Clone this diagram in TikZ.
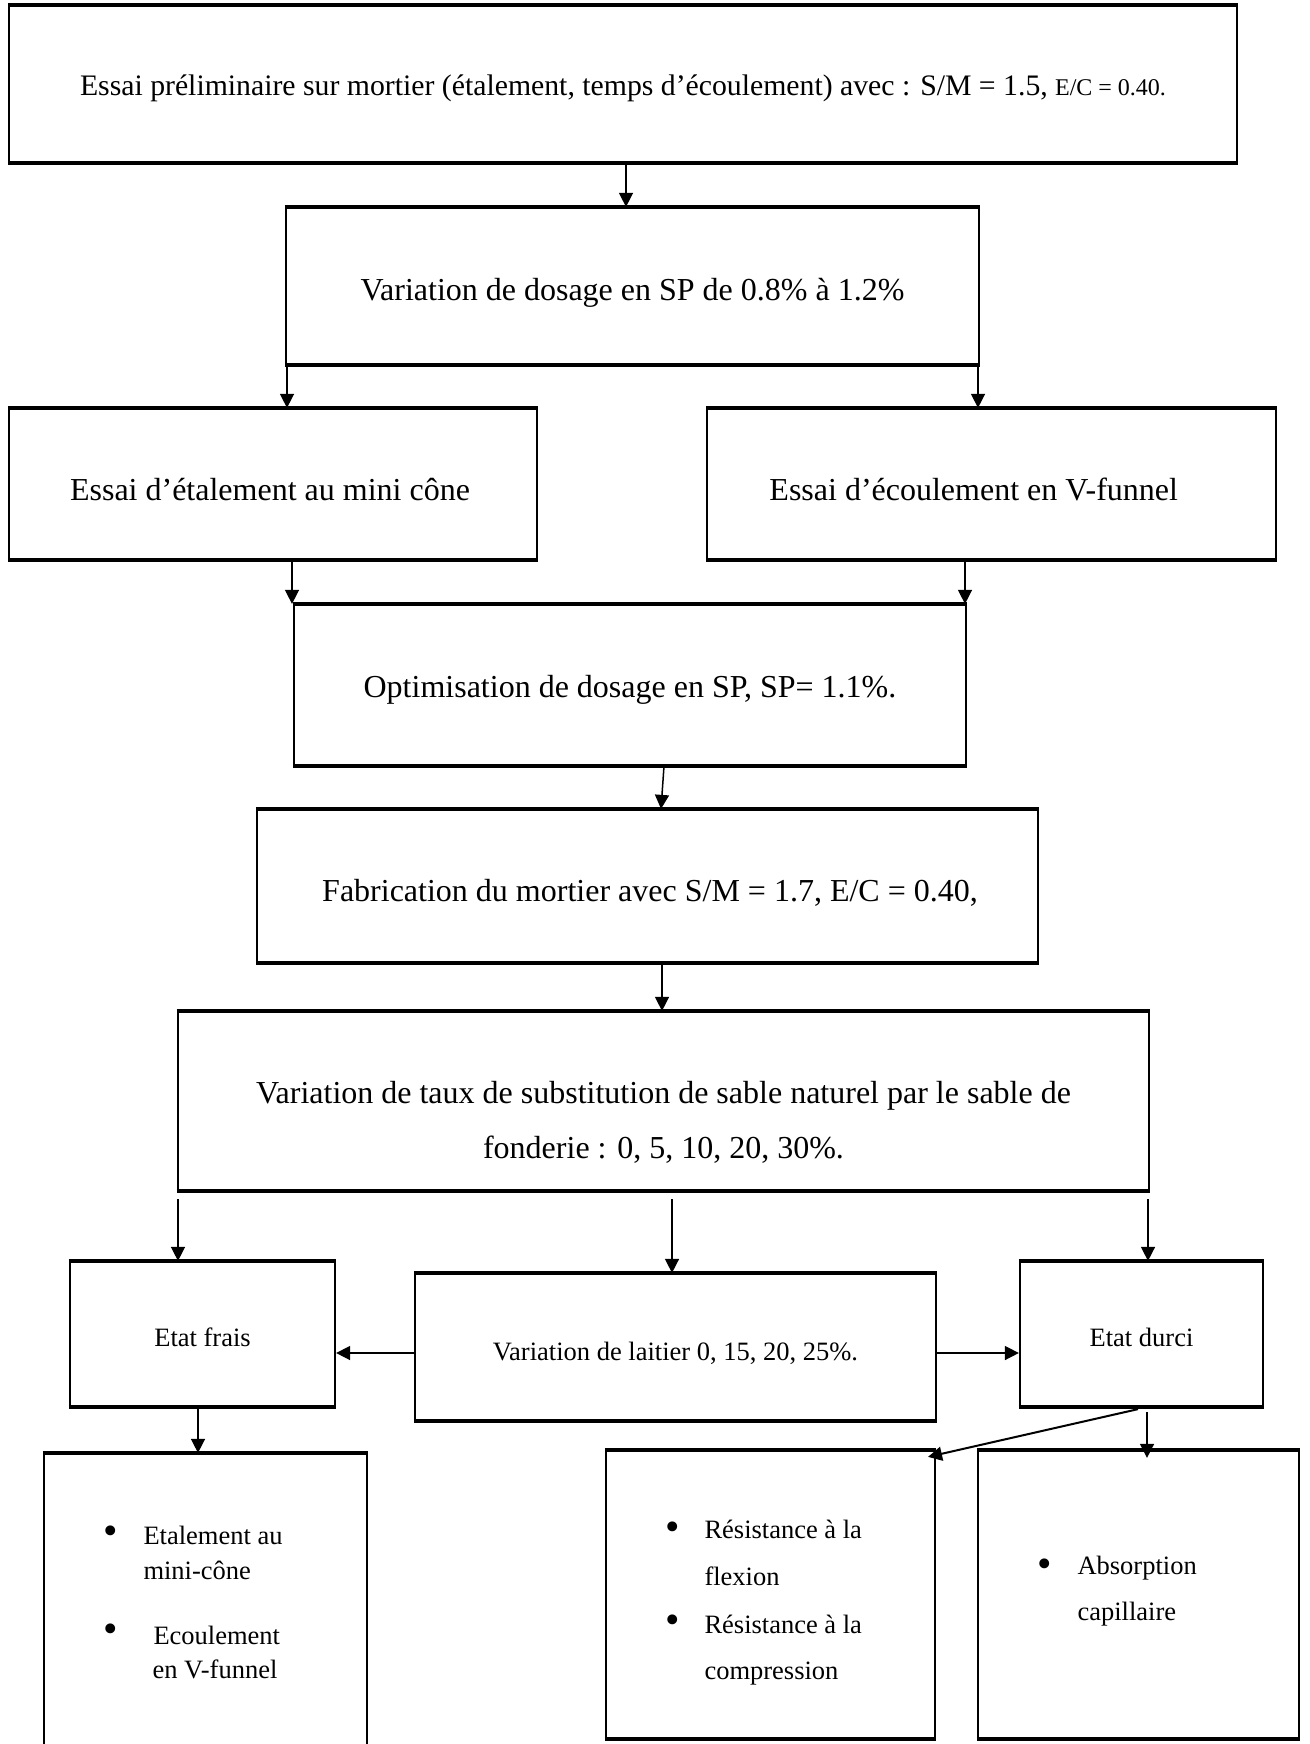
\documentclass[tikz,border=0pt]{standalone}
\usepackage{fontspec}
\setmainfont{Liberation Serif}
\usetikzlibrary{arrows.meta,calc}
\begin{document}
\begin{tikzpicture}[x=0.4pt,y=-0.4pt,
  box/.style={draw, line width=0.9pt, inner sep=0pt},
  btxt/.style={inner sep=0pt, align=center, font=\fontsize{12.8}{16}\selectfont},
  stxt/.style={inner sep=0pt, align=center, font=\fontsize{10.6}{13}\selectfont},
  txt/.style={inner sep=0pt, font=\fontsize{10.6}{13}\selectfont, anchor=west},
  bul/.style={inner sep=0pt, font=\fontsize{16.5}{18}\selectfont, anchor=center},
  arr/.style={-{Triangle[length=5.6pt,width=5.6pt]}, line width=0.6pt}]
\useasboundingbox (0,0) rectangle (1309,1744);
\fill[white] (0,0) rectangle (1309,1744);

% boxes
\node[box, minimum width=491.2pt, minimum height=62.4pt] (b1) at (623,84) {};
\node[box, minimum width=277.2pt, minimum height=62.4pt] (b2) at (632.5,286) {};
\node[box, minimum width=211.2pt, minimum height=60pt] (b3l) at (273,484) {};
\node[box, minimum width=227.6pt, minimum height=60pt] (b3r) at (991.5,484) {};
\node[box, minimum width=268.8pt, minimum height=64pt] (b4) at (630,685) {};
\node[box, minimum width=312.4pt, minimum height=60.8pt] (b5) at (647.5,886) {};
\node[box, minimum width=388.4pt, minimum height=71.2pt] (b6) at (663.5,1101) {};
\node[box, minimum width=106pt, minimum height=57.6pt] (fr) at (202.5,1334) {};
\node[box, minimum width=208.4pt, minimum height=58.4pt] (la) at (675.5,1347) {};
\node[box, minimum width=97.2pt, minimum height=57.6pt] (du) at (1141.5,1334) {};
\node[box, minimum width=129.2pt, minimum height=122.4pt] (b8l) at (205.5,1607) {};
\node[box, minimum width=131.6pt, minimum height=114.8pt] (b8m) at (770.5,1594.5) {};
\node[box, minimum width=128.4pt, minimum height=114.8pt] (b8r) at (1138.5,1594.5) {};

% thick top and bottom edges
\foreach \n in {b1,b2,b3l,b3r,b4,b5,b6,fr,la,du,b8l,b8m,b8r}{
  \draw[line width=1.4pt] (\n.north west) -- (\n.north east);
  \draw[line width=1.4pt] (\n.south west) -- (\n.south east);
}

% box texts
\node[btxt, font=\fontsize{11.9}{14}\selectfont] (t1) at (623,88.5)
  {Essai préliminaire sur mortier (étalement, temps d’écoulement) avec : S/M = 1.5, {\fontsize{9.6}{11}\selectfont E/C = 0.40.}};
\node[btxt] (t2) at (632.5,292.7) {Variation de dosage en SP de 0.8\% à 1.2\%};
\node[btxt] (t3l) at (270,489.6) {Essai d’étalement au mini cône};
\node[btxt] (t3r) at (973.7,489.6) {Essai d’écoulement en V-funnel};
\node[btxt] (t4) at (630,689.5) {Optimisation de dosage en SP, SP= 1.1\%.};
\node[btxt] (t5) at (650,892.7) {Fabrication du mortier avec S/M = 1.7, E/C = 0.40,};
\node[btxt, font=\fontsize{12.8}{21.8}\selectfont] (t6) at (663.5,1122.5)
  {Variation de taux de substitution de sable naturel par le sable de\\fonderie : 0, 5, 10, 20, 30\%.};
\node[stxt] (tfr) at (202.5,1337.3) {Etat frais};
\node[stxt] (tla) at (675.5,1353.7) {Variation de laitier 0, 15, 20, 25\%.};
\node[stxt] (tdu) at (1141.5,1337.3) {Etat durci};

% bullet texts
\node[bul] (l1b) at (111,1535) {•};
\node[txt] (l1a) at (143,1535) {Etalement au};
\node[txt] (l1c) at (143,1570) {mini-cône};
\node[bul] (l2b) at (111,1633) {•};
\node[txt] (l2a) at (153,1635) {Ecoulement};
\node[txt] (l2c) at (152,1669) {en V-funnel};

\node[bul] (m1b) at (673,1531) {•};
\node[txt] (m1a) at (704,1529) {Résistance à la};
\node[txt] (m1c) at (704,1576) {flexion};
\node[bul] (m2b) at (673,1624) {•};
\node[txt] (m2a) at (704,1624) {Résistance à la};
\node[txt] (m2c) at (704,1674) {compression};

\node[bul] (r1b) at (1045,1568) {•};
\node[txt] (r1a) at (1077,1568) {Absorption};
\node[txt] (r1c) at (1077,1614) {capillaire};

% connectors
\draw[arr] (b1.south -| 626,0) -- (b2.north -| 626,0);
\draw[arr] (b2.south -| 287,0) -- (b3l.north -| 287,0);
\draw[arr] (b2.south -| 978,0) -- (b3r.north -| 978,0);
\draw[arr] (b3l.south -| 292,0) -- (b4.north -| 292,0);
\draw[arr] (b3r.south -| 965,0) -- (b4.north -| 965,0);
\draw[arr] (b4.south -| 664,0) -- (b5.north -| 661,0);
\draw[arr] (b5.south -| 662,0) -- (b6.north -| 662,0);
\draw[arr] ($(b6.south -| 178,0)+(0,8)$) -- (fr.north -| 178,0);
\draw[arr] ($(b6.south -| 672,0)+(0,8)$) -- (la.north -| 672,0);
\draw[arr] ($(b6.south -| 1148,0)+(0,8)$) -- (du.north -| 1148,0);
\draw[arr] (la.west |- 0,1353) -- (fr.east |- 0,1353);
\draw[arr] (la.east |- 0,1353) -- (du.west |- 0,1353);
\draw[arr] (fr.south -| 198,0) -- (b8l.north -| 198,0);
\draw[arr, line width=0.8pt] ($(du.south -| 1138,0)+(0,2)$) -- ($(b8m.north -| 928,0)+(0,7)$);
\draw[arr] ($(du.south -| 1147,0)+(0,5)$) -- ($(b8r.north -| 1147,0)+(0,8)$);
\end{tikzpicture}
\end{document}
